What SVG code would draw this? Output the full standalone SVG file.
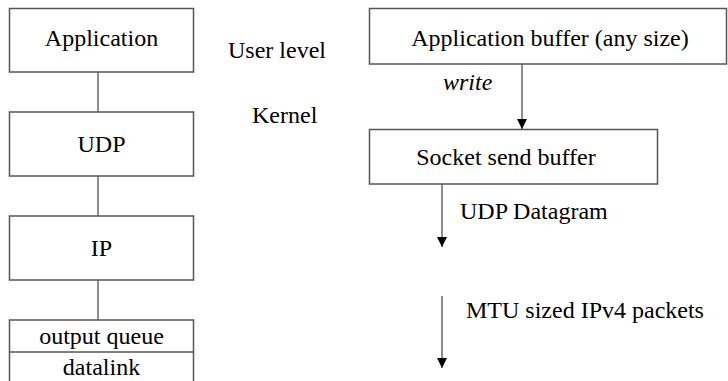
<svg xmlns="http://www.w3.org/2000/svg" width="728" height="381" viewBox="0 0 728 381">
  <style>
    .box { fill: #fff; stroke: #555; stroke-width: 1.5; }
    .link { stroke: #666; stroke-width: 1.5; fill: none; }
    .arrow { stroke: #666; stroke-width: 1.5; fill: none; marker-end: url(#head); }
    text { font-family: "Liberation Serif", "Times New Roman", serif; font-size: 24px; fill: #000; }
    .c { text-anchor: middle; }
  </style>
  <defs>
    <marker id="head" viewBox="0 0 10 10" refX="10" refY="5" markerWidth="10" markerHeight="10" markerUnits="userSpaceOnUse" orient="auto">
      <path d="M0,0 L10,5 L0,10 Z" fill="#000"/>
    </marker>
  </defs>

  <rect width="728" height="381" fill="#fff"/>

  <!-- connectors -->
  <g id="connectors">
    <line class="link" x1="98" y1="72" x2="98" y2="112"/>
    <line class="link" x1="98" y1="176" x2="98" y2="216"/>
    <line class="link" x1="98" y1="280" x2="98" y2="320"/>
    <line class="arrow" x1="522" y1="64" x2="522" y2="129"/>
    <line class="arrow" x1="442" y1="184" x2="442" y2="247"/>
    <line class="arrow" x1="442" y1="296" x2="442" y2="368"/>
  </g>

  <!-- protocol stack -->
  <g id="application">
    <rect class="box" x="9.5" y="8.5" width="184" height="63.5"/>
    <text class="c" x="101.5" y="46">Application</text>
  </g>
  <g id="udp">
    <rect class="box" x="9.5" y="112" width="184" height="64"/>
    <text class="c" x="101.5" y="152">UDP</text>
  </g>
  <g id="ip">
    <rect class="box" x="9.5" y="216" width="184" height="64"/>
    <text class="c" x="101.5" y="256">IP</text>
  </g>
  <g id="datalink">
    <path class="box" d="M9.5,390 V320 H193.5 V390"/>
    <line x1="9.5" y1="352" x2="193.5" y2="352" stroke="#555" stroke-width="1.5"/>
    <text class="c" x="101.5" y="344">output queue</text>
    <text class="c" x="101.5" y="375">datalink</text>
  </g>

  <!-- level labels -->
  <g id="levels">
    <text x="228" y="58">User level</text>
    <text x="252" y="123">Kernel</text>
  </g>

  <!-- buffers -->
  <g id="app-buffer">
    <rect class="box" x="369.5" y="8.5" width="357" height="55.5"/>
    <text class="c" x="550" y="46">Application buffer (any size)</text>
  </g>
  <g id="socket-buffer">
    <rect class="box" x="369.5" y="129.5" width="288" height="54.5"/>
    <text class="c" x="506" y="165">Socket send buffer</text>
  </g>

  <!-- arrow labels -->
  <g id="labels">
    <text x="443" y="90" font-style="italic">write</text>
    <text x="460" y="219">UDP Datagram</text>
    <text x="466" y="318">MTU sized IPv4 packets</text>
  </g>
</svg>
